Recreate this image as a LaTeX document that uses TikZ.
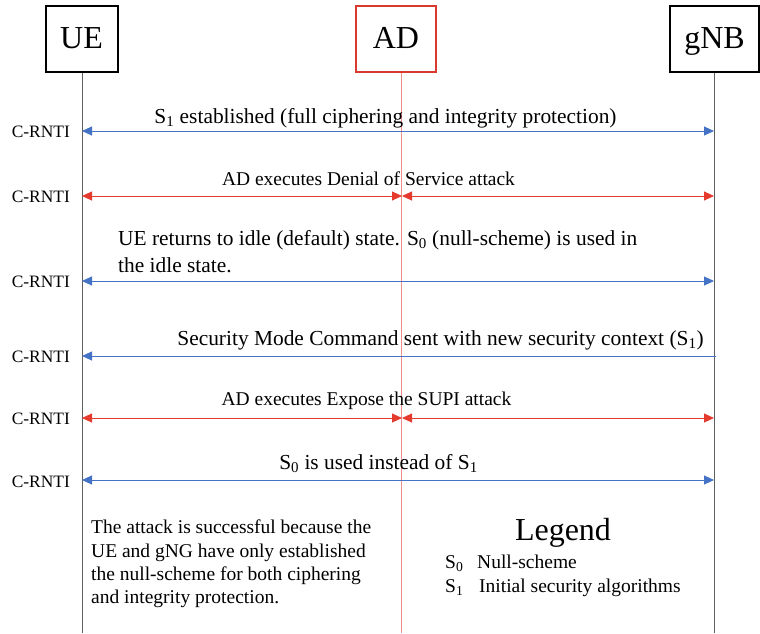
\documentclass[tikz,border=0pt]{standalone}
\usepackage{fontspec}
\setmainfont{Liberation Serif}
\usetikzlibrary{arrows.meta}
\definecolor{msgblue}{HTML}{4472C4}
\definecolor{msgred}{HTML}{E53A2E}
\definecolor{adred}{HTML}{D93A2F}
\definecolor{adline}{HTML}{EE8E88}
\definecolor{lifegrey}{HTML}{606060}
\begin{document}
\begin{tikzpicture}[x=1pt,y=-1pt,
  >={Triangle[length=10pt,width=9pt]},
  entity/.style={draw,line width=2pt,minimum height=66pt,inner sep=0pt,text height=23pt,text depth=5pt,font=\fontsize{32}{36}\selectfont},
  lifeline/.style={line width=1pt,lifegrey},
  adlife/.style={line width=1pt,adline},
  bluemsg/.style={line width=0.9pt,msgblue,<->},
  blueleft/.style={line width=0.9pt,msgblue,<-},
  redmsg/.style={line width=0.9pt,msgred,<->},
  lbl/.style={inner sep=0pt,font=\fontsize{21.4}{25}\selectfont},
  sml/.style={inner sep=0pt,font=\fontsize{19.5}{23}\selectfont},
  rnti/.style={inner sep=0pt,anchor=base east,font=\fontsize{17.4}{20}\selectfont},
  legendtitle/.style={inner sep=0pt,anchor=base,font=\fontsize{32}{36}\selectfont}
]
\useasboundingbox (0,0) rectangle (760,633);

% entities
\node[entity,minimum width=72pt] (ue) at (81.5,39) {UE};
\node[entity,draw=adred,minimum width=80.5pt] (ad) at (396,39) {AD};
\node[entity,minimum width=89pt] (gnb) at (714.5,39) {gNB};

% lifeline ends
\coordinate (uebot) at (82,633);
\coordinate (adbot) at (401,633);
\coordinate (gnbbot) at (714,633);
\draw[lifeline] (ue.south -| uebot) -- (uebot);
\draw[adlife] (ad.south -| adbot) -- (adbot);
\draw[lifeline] (gnb.south -| gnbbot) -- (gnbbot);

% message anchor points
\foreach \n/\y in {1/131,2/196,3/281,4/356,5/418,6/480}{
  \coordinate (u\n) at (82,\y);
  \coordinate (a\n) at (402,\y);
  \coordinate (g\n) at (714,\y);
}
\coordinate (g4e) at (716,356);

% messages
\draw[bluemsg] (u1) -- (g1);
\draw[redmsg] (u2) -- (a2);
\draw[redmsg] (a2) -- (g2);
\draw[bluemsg] (u3) -- (g3);
\draw[blueleft] (u4) -- (g4e);
\draw[redmsg] (u5) -- (a5);
\draw[redmsg] (a5) -- (g5);
\draw[bluemsg] (u6) -- (g6);

% message labels
\node[lbl,anchor=base] (m1) at (385.5,123) {S\textsubscript{1} established (full ciphering and integrity protection)};
\node[sml,anchor=base] (m2) at (368.5,185) {AD executes Denial of Service attack};
\node[lbl,anchor=base west] (m3a) at (118,245) {UE returns to idle (default) state. S\textsubscript{0} (null-scheme) is used in};
\node[lbl,anchor=base west] (m3b) at (118,272) {the idle state.};
\node[lbl,anchor=base] (m4) at (440.5,345) {Security Mode Command sent with new security context (S\textsubscript{1})};
\node[sml,anchor=base] (m5) at (366.5,405) {AD executes Expose the SUPI attack};
\node[lbl,anchor=base] (m6) at (378.5,469) {S\textsubscript{0} is used instead of S\textsubscript{1}};

% C-RNTI labels
\node[rnti] (r1) at (70,137) {C-RNTI};
\node[rnti] (r2) at (70,202) {C-RNTI};
\node[rnti] (r3) at (70,287) {C-RNTI};
\node[rnti] (r4) at (70,362) {C-RNTI};
\node[rnti] (r5) at (70,424) {C-RNTI};
\node[rnti] (r6) at (70,487) {C-RNTI};

% explanation
\node[sml,anchor=base west] (b1) at (91,533) {The attack is successful because the};
\node[sml,anchor=base west] (b2) at (91,557) {UE and gNG have only established};
\node[sml,anchor=base west] (b3) at (91,580) {the null-scheme for both ciphering};
\node[sml,anchor=base west] (b4) at (91,603) {and integrity protection.};

% legend
\node[legendtitle] (leg) at (563,540) {Legend};
\node[sml,anchor=base west] (l0s) at (445,568) {S\textsubscript{0}};
\node[sml,anchor=base west] (l0t) at (477,568) {Null-scheme};
\node[sml,anchor=base west] (l1s) at (445,592) {S\textsubscript{1}};
\node[sml,anchor=base west] (l1t) at (479,592) {Initial security algorithms};
\end{tikzpicture}
\end{document}
